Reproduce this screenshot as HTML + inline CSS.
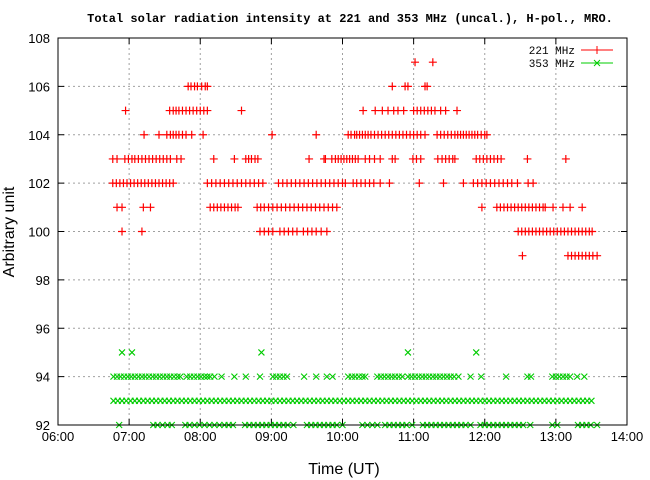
<!DOCTYPE html>
<html><head><meta charset="utf-8"><style>body{margin:0;background:#fff}svg{display:block}</style></head>
<body>
<svg id="chart" width="650" height="480" xmlns="http://www.w3.org/2000/svg">
<rect width="650" height="480" fill="#fff"/>
<text x="350" y="22" text-anchor="middle" font-family="Liberation Mono, monospace" font-weight="bold" font-size="12">Total solar radiation intensity at 221 and 353 MHz (uncal.), H-pol., MRO.</text>
<g id="grid"></g><g id="ticks"></g><g id="marks"></g>
<rect x="58" y="38" width="569" height="387" fill="none" stroke="#000" stroke-width="1"/>
<text x="344" y="474" text-anchor="middle" font-family="Liberation Sans, sans-serif" font-size="16">Time (UT)</text>
<text transform="translate(14,232) rotate(-90)" text-anchor="middle" font-family="Liberation Sans, sans-serif" font-size="16">Arbitrary unit</text>
<g font-family="Liberation Mono, monospace" font-size="11">
<text x="575" y="54" text-anchor="end">221 MHz</text>
<line x1="581" y1="50" x2="613" y2="50" stroke="#f00"/>
<path d="M593 50h8M597 46v8" stroke="#f00"/>
<text x="575" y="67" text-anchor="end">353 MHz</text>
<line x1="581" y1="63" x2="613" y2="63" stroke="#0c0"/>
<path d="M594 60l6 6M600 60l-6 6" stroke="#0c0"/>
</g>
</svg>
<script>
const xTicks=[6,7,8,9,10,11,12,13,14];
const xTickLabels=["06:00","07:00","08:00","09:00","10:00","11:00","12:00","13:00","14:00"];
const yTicks=[92,94,96,98,100,102,104,106,108];
const t107=[11.02,11.27];
const t106=[7.83,7.87,7.92,7.96,8.02,8.07,8.1,10.7,10.88,10.92,11.16,11.19];
const t105=[6.95,7.57,7.62,7.66,7.7,7.75,7.8,7.85,7.9,7.95,8.0,8.05,8.1,8.58,10.29,10.46,10.56,10.64,10.72,10.78,10.86,11.0,11.05,11.1,11.15,11.2,11.25,11.3,11.38,11.45,11.61];
const t104=[7.21,7.42,7.53,7.58,7.62,7.66,7.7,7.75,7.8,7.88,8.04,9.01,9.63,10.08,10.12,10.17,10.2,10.24,10.28,10.32,10.36,10.4,10.45,10.5,10.55,10.6,10.65,10.7,10.75,10.8,10.85,10.9,10.95,11.0,11.05,11.1,11.16,11.33,11.38,11.43,11.48,11.53,11.58,11.62,11.66,11.7,11.74,11.78,11.82,11.86,11.9,11.95,12.0,12.03];
const t103=[6.77,6.83,6.94,6.99,7.04,7.08,7.13,7.18,7.23,7.28,7.33,7.38,7.43,7.48,7.53,7.58,7.67,7.73,8.19,8.48,8.64,8.68,8.72,8.77,8.81,9.53,9.74,9.76,9.85,9.9,9.94,9.98,10.02,10.06,10.1,10.14,10.18,10.22,10.32,10.38,10.45,10.53,10.7,10.74,10.99,11.04,11.1,11.34,11.4,11.45,11.5,11.55,11.58,11.88,11.93,11.98,12.03,12.08,12.13,12.18,12.23,12.6,13.14];
const t102=[6.77,6.82,6.87,6.92,6.97,7.02,7.07,7.12,7.17,7.22,7.27,7.32,7.37,7.42,7.47,7.52,7.57,7.62,8.1,8.16,8.22,8.28,8.34,8.4,8.46,8.52,8.58,8.64,8.7,8.76,8.82,8.88,9.1,9.16,9.22,9.28,9.34,9.4,9.46,9.52,9.58,9.64,9.7,9.76,9.82,9.88,9.94,10.0,10.04,10.15,10.2,10.26,10.32,10.38,10.44,10.53,10.66,11.08,11.42,11.7,11.84,11.9,11.96,12.02,12.08,12.14,12.2,12.26,12.32,12.38,12.46,12.61,12.68];
const t101=[6.83,6.9,7.2,7.3,8.14,8.19,8.24,8.29,8.34,8.39,8.44,8.49,8.53,8.8,8.85,8.9,8.96,9.02,9.08,9.14,9.2,9.26,9.32,9.38,9.44,9.5,9.56,9.62,9.68,9.74,9.8,9.86,9.92,11.96,12.17,12.22,12.27,12.32,12.37,12.42,12.47,12.52,12.57,12.62,12.67,12.72,12.77,12.82,12.85,12.96,13.1,13.2,13.37];
const t100=[6.9,7.18,8.84,8.9,8.96,9.02,9.12,9.18,9.24,9.3,9.36,9.45,9.51,9.57,9.63,9.7,9.78,12.47,12.52,12.57,12.62,12.67,12.72,12.77,12.82,12.87,12.92,12.97,13.02,13.07,13.12,13.17,13.22,13.27,13.32,13.37,13.42,13.47,13.51];
const t99=[12.53,13.17,13.22,13.27,13.32,13.37,13.42,13.47,13.52,13.58];
const g95=[6.9,7.04,8.86,10.92,11.88];
const g94=[6.78,6.83,6.88,6.93,6.98,7.03,7.08,7.13,7.18,7.23,7.28,7.33,7.38,7.43,7.48,7.53,7.58,7.63,7.68,7.72,7.81,7.86,7.91,7.96,8.01,8.06,8.1,8.14,8.2,8.3,8.48,8.64,8.84,9.02,9.07,9.12,9.17,9.22,9.46,9.63,9.78,9.86,10.08,10.13,10.18,10.23,10.28,10.32,10.49,10.54,10.59,10.64,10.69,10.74,10.79,10.84,10.92,10.97,11.02,11.07,11.12,11.17,11.22,11.27,11.32,11.37,11.42,11.47,11.52,11.57,11.63,11.8,11.95,12.3,12.6,12.65,12.95,13.0,13.05,13.1,13.15,13.2,13.3,13.4];
const g93=[6.78,6.84,6.9,6.96,7.02,7.08,7.14,7.2,7.26,7.32,7.38,7.44,7.5,7.56,7.62,7.68,7.74,7.8,7.86,7.92,7.98,8.04,8.1,8.16,8.22,8.28,8.34,8.4,8.46,8.52,8.58,8.64,8.7,8.76,8.82,8.88,8.94,9.0,9.06,9.12,9.18,9.24,9.3,9.36,9.42,9.48,9.54,9.6,9.66,9.72,9.78,9.84,9.9,9.96,10.02,10.08,10.14,10.2,10.26,10.32,10.38,10.44,10.5,10.56,10.62,10.68,10.74,10.8,10.86,10.92,10.98,11.04,11.1,11.16,11.22,11.28,11.34,11.4,11.46,11.52,11.58,11.64,11.7,11.76,11.82,11.88,11.94,12.0,12.06,12.12,12.18,12.24,12.3,12.36,12.42,12.48,12.54,12.6,12.66,12.72,12.78,12.84,12.9,12.96,13.02,13.08,13.14,13.2,13.26,13.32,13.38,13.44,13.5];
const g92=[6.86,7.34,7.4,7.47,7.54,7.6,7.79,7.85,7.92,7.99,8.06,8.13,8.2,8.27,8.34,8.4,8.46,8.63,8.69,8.75,8.81,8.87,8.93,8.99,9.05,9.11,9.17,9.23,9.31,9.5,9.56,9.62,9.68,9.74,9.8,9.86,9.92,10.0,10.28,10.35,10.42,10.49,10.6,10.66,10.72,10.78,10.84,10.9,10.98,11.13,11.19,11.25,11.31,11.37,11.43,11.49,11.55,11.61,11.67,11.73,11.8,11.94,12.0,12.06,12.12,12.18,12.24,12.3,12.36,12.42,12.48,12.54,12.64,12.95,13.02,13.31,13.37,13.43,13.49,13.58];
const redSeries=[[107,t107],[106,t106],[105,t105],[104,t104],[103,t103],[102,t102],[101,t101],[100,t100],[99,t99]];
const greenSeries=[[95,g95],[94,g94],[93,g93],[92,g92]];
const L=58,R=627,T=38,B=425;
const xs=h=>L+(h-6)/8*(R-L);
const ys=v=>B-(v-92)/16*(B-T);
const NS="http://www.w3.org/2000/svg";
function mk(tag,attrs,parent){const e=document.createElementNS(NS,tag);for(const k in attrs)e.setAttribute(k,attrs[k]);parent.appendChild(e);return e;}
const grid=document.getElementById('grid'),ticks=document.getElementById('ticks'),marks=document.getElementById('marks');
xTicks.forEach((h,i)=>{const x=xs(h);
 if(i>0&&i<xTicks.length-1){const g=mk('line',{x1:x,y1:T,x2:x,y2:B,stroke:'#a0a0a0','stroke-dasharray':'2,3'},grid);
 
 }
 mk('line',{x1:x,y1:B,x2:x,y2:B-6,stroke:'#000'},ticks);
 mk('line',{x1:x,y1:T,x2:x,y2:T+6,stroke:'#000'},ticks);
 const t=mk('text',{x:x,y:441,'text-anchor':'middle','font-family':'Liberation Sans, sans-serif','font-size':'13'},ticks);t.textContent=xTickLabels[i];
 
 });
yTicks.forEach((v,i)=>{const y=ys(v);
 if(i>0&&i<yTicks.length-1){const g=mk('line',{x1:L,y1:y,x2:R,y2:y,stroke:'#a0a0a0','stroke-dasharray':'2,3'},grid);
 
 }
 mk('line',{x1:L,y1:y,x2:L+6,y2:y,stroke:'#000'},ticks);
 mk('line',{x1:R,y1:y,x2:R-6,y2:y,stroke:'#000'},ticks);
 const t=mk('text',{x:50,y:y+5,'text-anchor':'end','font-family':'Liberation Sans, sans-serif','font-size':'13'},ticks);t.textContent=v;
 
 });
redSeries.forEach(([lvl,arr])=>arr.forEach(h=>{const x=xs(h),y=ys(lvl);
 const p=mk('path',{d:`M${x-4} ${y}h8M${x} ${y-4}v8`,stroke:'#f00','stroke-width':'1.2',fill:'none'},marks);
 
 }));
greenSeries.forEach(([lvl,arr])=>arr.forEach(h=>{const x=xs(h),y=ys(lvl);
 const p=mk('path',{d:`M${x-3} ${y-3}l6 6M${x+3} ${y-3}l-6 6`,stroke:'#0c0','stroke-width':'1.1',fill:'none'},marks);
 
 }));
</script>
</body></html>
